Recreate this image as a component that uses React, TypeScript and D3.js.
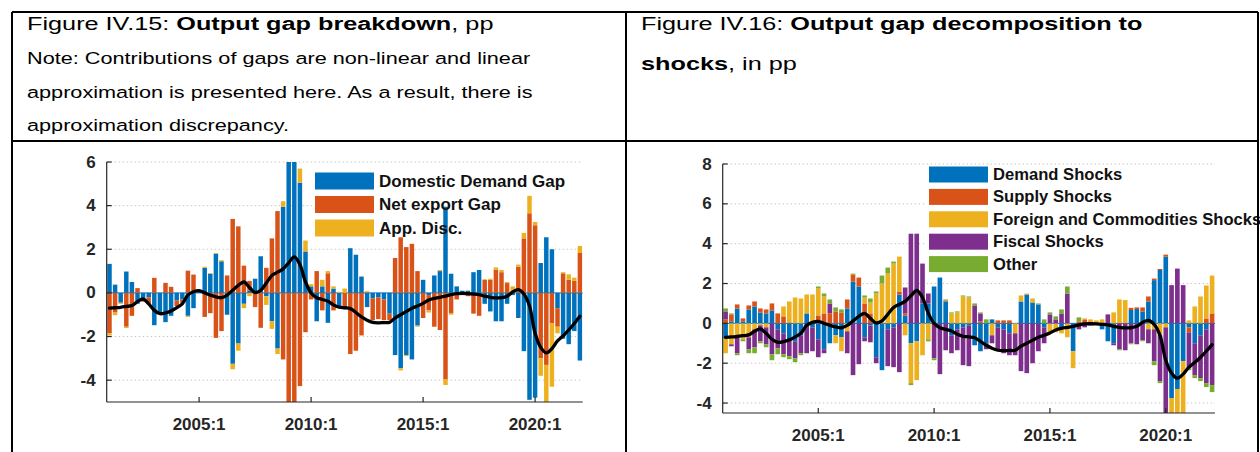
import React from "react";
import * as d3 from "d3";

// ---------- categories (quarters 2001:1 .. 2022:1) ----------
const startYear = 2001;
const quarterCount = 85;
const categories: string[] = Array.from({ length: quarterCount }, (_, i) => `${startYear + Math.floor(i / 4)}:${(i % 4) + 1}`);
const xTickLabels = ["2005:1", "2010:1", "2015:1", "2020:1"];

// ---------- total output gap (black line, both charts) ----------
const outputGap = [
  -0.7, -0.68, -0.66, -0.62, -0.58, -0.4, -0.28, -0.5, -0.8, -0.95,
  -0.92, -0.83, -0.68, -0.5, -0.1, 0.05, 0.1, 0.0, -0.1, -0.18,
  -0.22, -0.1, 0.12, 0.35, 0.5, 0.25, 0.02, 0.12, 0.45, 0.8,
  0.95, 1.1, 1.38, 1.65, 1.3, 0.5, 0.0, -0.22, -0.3, -0.38,
  -0.55, -0.65, -0.68, -0.72, -0.9, -1.1, -1.25, -1.35, -1.37, -1.36,
  -1.35, -1.15, -1.0, -0.85, -0.7, -0.6, -0.48, -0.33, -0.25, -0.2,
  -0.15, -0.08, -0.03, -0.02, -0.03, -0.05, -0.08, -0.15, -0.2, -0.23,
  -0.22, -0.15, 0.05, 0.15, -0.05, -0.6, -1.85, -2.5, -2.75, -2.55,
  -2.2, -1.97, -1.7, -1.4, -1.07,
];

// ---------- Figure IV.15 series ----------
const domesticDemandGap = [
  1.33, 0.38, -0.45, 0.98, 0.5, -0.5, -0.3, -0.2, -1.48, -0.9,
  -1.34, -1.05, -0.35, -0.3, -1.05, -0.7, 0.05, 1.15, 0.88, 1.8,
  1.45, -1.0, -3.25, -2.32, -0.5, 0.1, 0.65, 1.68, -0.15, -1.3,
  -2.55, 3.95, 7.0, 7.2, 5.05, 1.9, 0.3, -1.3, 0.3, -1.37,
  0.2, -0.6, 0.0, 2.05, 1.75, 0.75, -0.65, -0.25, -0.2, -0.3,
  -0.95, -2.85, -3.45, -2.85, -3.05, -1.5, 0.6, -0.1, 0.8, 1.0,
  3.95, 0.88, 0.3, 0.1, 0.1, 0.95, 1.05, -0.5, -0.85, -1.3,
  -1.3, -0.5, -0.1, -1.15, -2.67, -4.9, -4.8, 1.37, 2.55, 2.0,
  -0.7, -2.1, -2.35, -1.75, -3.1,
];
const netExportGap = [
  -1.85, -0.9, 0.0, -1.55, -1.05, 0.22, -0.1, -0.3, 0.69, -0.05,
  0.46, 0.28, -0.25, -0.15, 1.02, 0.84, 0.05, -1.1, -0.93, -2.06,
  -1.75, 0.8, 3.39, 3.05, 1.25, 0.45, -0.65, -1.6, 1.15, 2.5,
  3.75, -3.05, -5.6, -5.8, -4.27, -1.8, -0.3, 1.0, -0.8, 0.9,
  -0.8, 0.0, -0.75, -2.8, -2.65, -1.95, 0.03, -1.0, -1.0, -0.95,
  -0.3, 1.6, 2.55, 2.1, 2.25, 1.0, -1.15, -0.7, -1.55, -1.7,
  -3.97, -0.92, -0.3, -0.1, -0.15, -0.95, -1.05, 0.6, 0.6, 1.07,
  0.95, 0.45, 0.05, 1.2, 2.5, 3.65, 3.1, -3.0, -3.3, -1.4,
  -0.85, 0.9, 0.6, 0.55, 1.83,
];
const appDisc = [
  -0.1, -0.12, -0.05, -0.06, 0.0, 0.0, 0.0, 0.0, 0.0, 0.0,
  0.0, 0.0, 0.0, 0.0, -0.05, 0.0, 0.0, 0.05, 0.03, 0.03,
  0.05, 0.0, -0.25, -0.33, -0.2, -0.15, 0.0, 0.0, -0.4, -0.35,
  -0.25, 0.25, 0.0, 0.0, 0.65, 0.5, 0.1, 0.0, 0.3, 0.1,
  0.1, 0.05, 0.2, 0.0, 0.0, 0.0, 0.05, 0.0, 0.0, 0.0,
  0.0, 0.0, -0.1, -0.05, 0.0, -0.05, 0.0, -0.1, 0.0, 0.05,
  -0.25, -0.08, 0.0, 0.0, 0.02, 0.0, 0.0, 0.03, 0.05, 0.1,
  0.1, 0.05, 0.25, 0.1, 0.25, 0.8, 0.15, -0.8, -1.7, -2.9,
  -0.3, 0.05, 0.25, 0.15, 0.32,
];

// ---------- Figure IV.16 series ----------
const demandShocks = [
  -0.75, 0.1, 0.75, 0.1, 0.7, 0.85, 0.55, 0.5, 0.65, -0.3,
  -0.5, -0.8, -0.9, -0.6, 0.5, -0.2, -0.8, -1.3, -1.0, -0.6,
  -0.7, 0.75, 2.1, 1.85, -0.7, -0.1, -1.7, -2.35, -0.3, -0.2,
  1.45, 0.4, -1.0, -0.9, 1.0, 1.0, 1.85, 2.3, 1.1, -0.6,
  -0.3, -0.2, -0.1, -1.1, -1.4, -1.0, 0.2, -0.2, -0.3, -0.5,
  0.0, 1.1, 1.45, 1.05, 0.95, -0.2, 0.0, 0.0, -0.2, 0.0,
  -1.4, 0.0, 0.0, 0.0, 0.0, -0.3, -0.9, -1.0, 0.0, 0.0,
  0.67, 0.72, 0.6, 1.1, 2.17, 2.68, 3.35, -3.75, -3.3, -1.9,
  -0.2, -1.0, -0.6, -0.3, 0.0,
];
const supplyShocks = [
  0.2, 0.35, 0.2, 0.15, 0.2, 0.25, 0.2, 0.2, 0.35, 0.5,
  0.35, 0.05, 0.0, 0.0, 0.0, 0.05, 0.4, 0.5, 0.5, 0.6,
  0.55, 0.45, 0.35, 0.45, 1.0, 0.5, 0.0, 0.0, 0.0, 0.0,
  0.15, 0.1, 0.0, 0.0, 0.0, 0.0, 0.0, 0.0, 0.05, 0.0,
  0.0, 0.0, 0.0, 0.0, 0.1, 0.0, 0.0, 0.15, 0.15, 0.15,
  0.0, 0.0, 0.0, 0.0, 0.0, 0.0, 0.0, 0.0, 0.0, 0.0,
  0.0, 0.1, 0.2, 0.1, 0.05, 0.0, 0.0, 0.0, 0.0, 0.0,
  0.11, 0.08, 0.2, 0.25, 0.08, 0.05, 0.1, 0.0, 0.0, 0.0,
  -0.25, 0.0, 0.0, 0.25, 0.5,
];
const foreignShocks = [
  -0.75, -1.05, -0.6, -0.8, -0.7, -0.3, -0.1, -0.2, 0.0, 0.0,
  0.5, 1.05, 1.3, 1.25, 0.95, 1.4, 1.35, 0.85, 0.0, -0.4,
  -0.7, -0.4, 0.0, 0.0, 0.3, 0.55, 1.5, 2.0, 2.5, 3.0,
  1.75, -0.6, -2.0, -1.95, -1.6, -0.8, 0.0, 0.0, 0.0, 0.5,
  0.55, 1.35, 1.3, 0.0, 0.0, 0.0, -0.6, 0.0, 0.0, 0.0,
  -0.5, 0.3, 0.05, 0.2, 0.0, 0.0, -0.5, -0.45, -0.3, -0.7,
  -0.85, 0.0, 0.05, 0.1, 0.1, 0.2, 0.0, 0.55, 1.2, 1.17,
  0.0, 0.0, 0.0, -0.3, -0.3, -0.6, -0.2, -1.5, -1.8, -2.8,
  0.15, 0.85, 1.35, 1.65, 1.9,
];
const fiscalShocks = [
  0.4, -0.1, -0.9, 0.0, -0.6, -0.9, -0.8, -0.85, -1.55, -0.95,
  -1.05, -0.85, -0.85, -0.9, -1.5, -1.2, -0.9, -0.2, 0.5, 0.0,
  0.0, -1.1, -2.6, -2.05, -0.2, -0.85, -0.3, 0.0, -1.85, -2.0,
  -2.45, 1.3, 4.5, 4.5, 2.0, 0.5, -1.75, -2.55, -1.35, -0.9,
  -1.05, -1.9, -2.05, 0.9, 0.4, -0.3, -0.4, -1.1, -1.2, -1.1,
  -1.1, -2.4, -2.5, -2.0, -1.4, -0.8, 0.45, 0.2, 0.5, 1.5,
  0.0, -0.3, -0.2, -0.1, -0.05, 0.0, 0.45, -0.1, -1.3, -1.35,
  -1.0, -1.05, -0.85, -0.7, -1.6, -2.3, -4.5, 1.92, 2.75, 1.92,
  -1.8, -1.6, -2.15, -2.7, -3.1,
];
const otherShocks = [
  0.15, 0.05, -0.1, -0.1, -0.2, -0.3, -0.1, -0.15, -0.3, -0.3,
  -0.15, -0.15, -0.2, -0.1, 0.0, 0.0, 0.1, 0.15, 0.2, 0.2,
  0.15, 0.0, 0.05, 0.0, 0.1, 0.2, 0.1, 0.4, 0.3, 0.1,
  0.0, 0.0, -0.1, 0.0, 0.0, -0.1, -0.1, 0.0, 0.05, 0.05,
  0.05, 0.05, 0.05, 0.1, 0.05, 0.2, 0.0, 0.0, 0.0, 0.0,
  0.0, 0.0, 0.0, 0.0, 0.05, 0.2, 0.1, 0.15, 0.2, 0.35,
  0.0, 0.2, 0.0, 0.0, 0.0, 0.0, 0.0, 0.0, -0.05, 0.0,
  -0.05, 0.0, -0.05, 0.0, -0.2, -0.1, 0.0, 0.0, 0.0, 0.0,
  -0.1, -0.15, -0.15, -0.2, -0.35,
];

const leftLegend = ["Domestic Demand Gap", "Net export Gap", "App. Disc."];
const rightLegend = ["Demand Shocks", "Supply Shocks", "Foreign and Commodities Shocks", "Fiscal Shocks", "Other"];
const leftColors = ["#0072BD", "#D95319", "#EDB120"];
const rightColors = ["#0072BD", "#D95319", "#EDB120", "#7E2F8E", "#77AC30"];

const FONT = "'Liberation Sans', Arial, Helvetica, sans-serif";
const AXIS = "#262626";
const STRETCH = 1.33; // header text is horizontally stretched in the reference

type ChartProps = {
  id: string;
  left: number; right: number; top: number; bottom: number;
  yDomain: [number, number];
  yTicks: number[];
  series: number[][];
  colors: string[];
  labels: string[];
  legend: { x: number; y: number; step: number; boxW: number; boxH: number; font: number; bg: [number, number, number, number] };
};

function StackedChart(p: ChartProps) {
  const x = d3.scaleBand<string>().domain(categories).range([p.left, p.right]).paddingInner(0.2).paddingOuter(0.1);
  const y = d3.scaleLinear().domain(p.yDomain).range([p.bottom, p.top]);
  const keys = p.series.map((_, k) => `s${k}`);
  const rows = categories.map((c, i) => {
    const r: any = { cat: c };
    p.series.forEach((s, k) => (r[`s${k}`] = s[i]));
    return r;
  });
  const stacked = d3.stack<any>().keys(keys).offset(d3.stackOffsetDiverging)(rows);
  const cx = (c: string) => (x(c) as number) + x.bandwidth() / 2;
  const line = d3.line<number>().x((_, i) => cx(categories[i])).y((v) => y(v)).curve(d3.curveCatmullRom.alpha(0.5));
  const clipId = `clip-${p.id}`;
  const L = p.legend;
  return (
    <g>
      <defs>
        <clipPath id={clipId}>
          <rect x={p.left} y={p.top} width={p.right - p.left} height={p.bottom - p.top} />
        </clipPath>
      </defs>
      {p.yTicks.filter((t) => t !== 0).map((t) => (
        <line key={`g${t}`} x1={p.left} x2={p.right} y1={y(t)} y2={y(t)} stroke="#c8c8c8" strokeWidth={1} strokeDasharray="1.5,2.5" />
      ))}
      <rect x={L.bg[0]} y={L.bg[1]} width={L.bg[2]} height={L.bg[3]} fill="#fff" />
      <line x1={p.left} x2={p.right} y1={y(0)} y2={y(0)} stroke="#0072BD" strokeWidth={1} />
      <g clipPath={`url(#${clipId})`}>
        {stacked.map((layer, k) => (
          <g key={k} fill={p.colors[k]}>
            {layer.map((d, i) => {
              const y0 = y(d[0]);
              const y1 = y(d[1]);
              const h = Math.abs(y0 - y1);
              if (h < 0.01) return null;
              return <rect key={i} x={x(categories[i]) as number} width={x.bandwidth()} y={Math.min(y0, y1)} height={h} />;
            })}
          </g>
        ))}
        <path d={line(outputGap) as string} fill="none" stroke="#000" strokeWidth={3.3} strokeLinejoin="round" strokeLinecap="round" />
      </g>
      {p.labels.map((lab, k) => (
        <g key={lab}>
          <rect x={L.x} y={L.y + k * L.step - L.boxH / 2} width={L.boxW} height={L.boxH} fill={p.colors[k]} />
          <text x={L.x + L.boxW + 5} y={L.y + k * L.step} dominantBaseline="central" fontFamily={FONT} fontWeight="bold" fontSize={L.font} fill="#111">{lab}</text>
        </g>
      ))}
      {/* axes */}
      <line x1={p.left} x2={p.left} y1={p.top} y2={p.bottom} stroke={AXIS} strokeWidth={1.2} />
      <line x1={p.left} x2={p.right} y1={p.bottom} y2={p.bottom} stroke={AXIS} strokeWidth={1.2} />
      {p.yTicks.map((t) => (
        <g key={`t${t}`}>
          <line x1={p.left} x2={p.left + 5} y1={y(t)} y2={y(t)} stroke={AXIS} strokeWidth={1.2} />
          <text x={p.left - 11} y={y(t)} textAnchor="end" dominantBaseline="central" fontFamily={FONT} fontWeight="bold" fontSize={17} fill={AXIS}>{t}</text>
        </g>
      ))}
      {xTickLabels.map((lab) => (
        <g key={lab}>
          <line x1={cx(lab)} x2={cx(lab)} y1={p.bottom} y2={p.bottom - 5} stroke={AXIS} strokeWidth={1.2} />
          <text x={cx(lab)} y={p.bottom + 22} textAnchor="middle" dominantBaseline="central" fontFamily={FONT} fontWeight="bold" fontSize={17} fill={AXIS}>{lab}</text>
        </g>
      ))}
    </g>
  );
}

function HeaderText({ x, y, size, children }: { x: number; y: number; size: number; children: React.ReactNode }) {
  return (
    <text transform={`translate(${x},${y}) scale(${STRETCH},1)`} fontSize={size}>
      {children}
    </text>
  );
}

export default function App() {
  return (
    <svg width={1260} height={452} style={{ position: "absolute", left: 0, top: 0, background: "#fff" }}>
      <rect x={0} y={0} width={1260} height={452} fill="#fff" />
      {/* headers */}
      <g fontFamily={FONT} fill="#000">
        <HeaderText x={27} y={30} size={19}>
          Figure IV.15: <tspan fontWeight="bold">Output gap breakdown</tspan>, pp
        </HeaderText>
        <HeaderText x={27} y={64} size={16.3}>Note: Contributions of gaps are non-linear and linear</HeaderText>
        <HeaderText x={27} y={98} size={16.3}>approximation is presented here. As a result, there is</HeaderText>
        <HeaderText x={27} y={131} size={16.3}>approximation discrepancy.</HeaderText>
        <HeaderText x={641} y={30} size={19}>
          Figure IV.16: <tspan fontWeight="bold">Output gap decomposition to</tspan>
        </HeaderText>
        <HeaderText x={641} y={70} size={19}>
          <tspan fontWeight="bold">shocks</tspan>, in pp
        </HeaderText>
      </g>
      <StackedChart
        id="l"
        left={106.7} right={582.7} top={162} bottom={402}
        yDomain={[-5, 6]} yTicks={[-4, -2, 0, 2, 4, 6]}
        series={[domesticDemandGap, netExportGap, appDisc]}
        colors={leftColors} labels={leftLegend}
        legend={{ x: 315, y: 181, step: 23.5, boxW: 59, boxH: 17, font: 17, bg: [312, 170, 268, 70] }}
      />
      <StackedChart
        id="r"
        left={722.7} right={1215} top={164} bottom={413}
        yDomain={[-4.5, 8]} yTicks={[-4, -2, 0, 2, 4, 6, 8]}
        series={[demandShocks, supplyShocks, foreignShocks, fiscalShocks, otherShocks]}
        colors={rightColors} labels={rightLegend}
        legend={{ x: 929, y: 174.5, step: 22.4, boxW: 59, boxH: 16, font: 16.6, bg: [926, 165, 340, 110] }}
      />
      {/* table borders */}
      <g stroke="#000" strokeWidth={2}>
        <line x1={12} x2={1258} y1={12} y2={12} />
        <line x1={12} x2={1258} y1={141} y2={141} />
        <line x1={12} x2={12} y1={12} y2={452} />
        <line x1={626} x2={626} y1={12} y2={452} />
        <line x1={1258} x2={1258} y1={12} y2={452} />
      </g>
    </svg>
  );
}
